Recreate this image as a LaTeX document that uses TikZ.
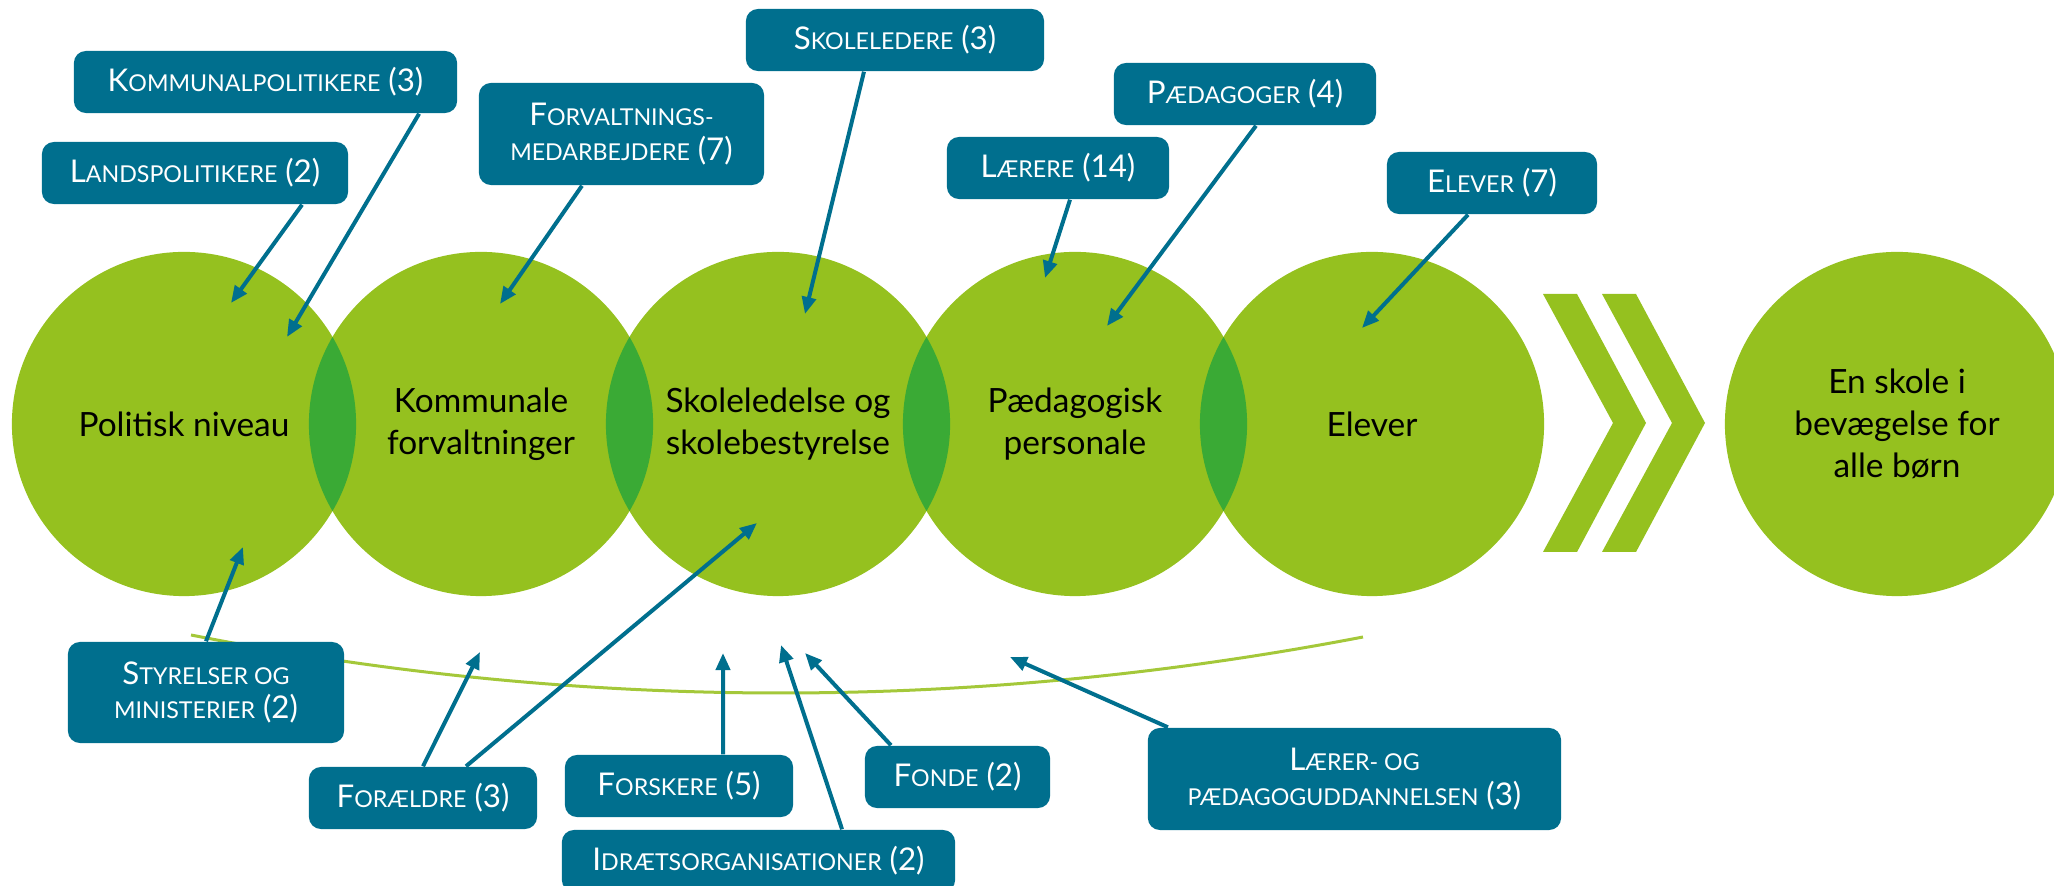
\documentclass[tikz,border=0pt]{standalone}
\usepackage{fontspec}
\setmainfont{Lato}
\usetikzlibrary{arrows.meta}
\definecolor{leafgreen}{HTML}{95C11F}
\definecolor{lensgreen}{HTML}{3AAA35}
\definecolor{petrol}{HTML}{006F8E}
\definecolor{linegreen}{HTML}{A4C83A}
\newcommand{\smc}[1]{{\fontsize{6.6}{7}\selectfont #1}}

\begin{document}
\begin{tikzpicture}[x=0.01cm,y=-0.01cm,
  stage node/.style={circle,fill=leafgreen,minimum size=3.44cm,inner sep=0pt,align=center,font=\fontsize{9.5}{12}\selectfont},
  label node/.style={rectangle,rounded corners=0.12cm,fill=petrol,text=white,align=center,inner sep=0pt,minimum height=0.62cm,font=\fontsize{8.9}{9.9}\selectfont},
  pointer/.style={-{Triangle[length=0.17cm,width=0.14cm]},draw=petrol,fill=petrol,line width=0.04cm}]
  \useasboundingbox (0,0) rectangle (2054,886);

  % the arc under the circles
  \draw[linegreen,line width=0.03cm] (191,635) .. controls (582,712) and (972,712) .. (1363,637);

  \node[stage node] (s1) at (184, 424) {Politisk niveau};
  \node[stage node] (s2) at (481, 424) {Kommunale\\forvaltninger};
  \node[stage node] (s3) at (778, 424) {Skoleledelse og\\skolebestyrelse};
  \node[stage node] (s4) at (1075, 424) {Pædagogisk\\personale};
  \node[stage node] (s5) at (1372, 424) {Elever};
  \node[stage node] (goal) at (1897, 424) {En skole i\\bevægelse for\\alle børn};

  % overlaps
  \foreach \a/\b in {s1/s2,s2/s3,s3/s4,s4/s5} {
    \begin{scope}
      \clip (\a) circle[radius=1.72cm];
      \fill[lensgreen] (\b) circle[radius=1.72cm];
    \end{scope}
  }

  % chevrons
  \foreach \dx in {0,59}
    \fill[leafgreen] (1543+\dx,294) -- (1577+\dx,294) -- (1646+\dx,423) -- (1577+\dx,552)
      -- (1543+\dx,552) -- (1613+\dx,423) -- cycle;

  \node[label node, minimum width=3.06cm] (lands) at (195, 173) {L\smc{ANDSPOLITIKERE} (2)};
  \node[label node, minimum width=3.83cm] (kpol) at (265.5, 82) {K\smc{OMMUNALPOLITIKERE} (3)};
  \node[label node, minimum width=2.85cm, minimum height=1.02cm] (forv) at (621.5, 134) {F\smc{ORVALTNINGS-}\\\smc{MEDARBEJDERE} (7)};
  \node[label node, minimum width=2.98cm] (skol) at (895, 40) {S\smc{KOLELEDERE} (3)};
  \node[label node, minimum width=2.22cm] (laer) at (1058, 168) {L\smc{ÆRERE} (14)};
  \node[label node, minimum width=2.62cm] (paed) at (1245, 94) {P\smc{ÆDAGOGER} (4)};
  \node[label node, minimum width=2.10cm] (elev) at (1492, 183) {E\smc{LEVER} (7)};
  \node[label node, minimum width=2.76cm, minimum height=1.01cm] (styr) at (206, 692.5) {S\smc{TYRELSER OG}\\\smc{MINISTERIER} (2)};
  \node[label node, minimum width=2.28cm] (fore) at (423, 798) {F\smc{ORÆLDRE} (3)};
  \node[label node, minimum width=2.28cm] (forsk) at (679, 786) {F\smc{ORSKERE} (5)};
  \node[label node, minimum width=3.93cm] (idraet) at (758.5, 861) {I\smc{DRÆTSORGANISATIONER} (2)};
  \node[label node, minimum width=1.85cm] (fonde) at (957.5, 777) {F\smc{ONDE} (2)};
  \node[label node, minimum width=4.13cm, minimum height=1.02cm] (uddan) at (1354.5, 779) {L\smc{ÆRER- OG}\\\smc{PÆDAGOGUDDANNELSEN} (3)};

  \coordinate (t-lands) at (231, 303);
  \coordinate (t-kpol) at (287, 337);
  \coordinate (t-forv) at (500, 304);
  \coordinate (t-skol) at (805, 314);
  \coordinate (t-laer) at (1045, 278);
  \coordinate (t-paed) at (1107, 326);
  \coordinate (t-elev) at (1362, 328);
  \coordinate (t-styr) at (243, 547);
  \coordinate (t-fore) at (480, 652);
  \coordinate (t-fore2) at (757, 523);
  \coordinate (t-forsk) at (723, 653);
  \coordinate (t-idraet) at (781, 645);
  \coordinate (t-fonde) at (805, 653);
  \coordinate (t-uddan) at (1010, 657);

  \path[pointer]
    ([xshift=1.07cm]lands.south) edge (t-lands)
    ([xshift=1.535cm]kpol.south) edge (t-kpol)
    ([xshift=-0.395cm]forv.south) edge (t-forv)
    ([xshift=-0.31cm]skol.south) edge (t-skol)
    ([xshift=0.12cm]laer.south) edge (t-laer)
    ([xshift=0.11cm]paed.south) edge (t-paed)
    ([xshift=-0.24cm]elev.south) edge (t-elev)
    (styr.north) edge (t-styr)
    (fore.north) edge (t-fore)
    ([xshift=0.43cm]fore.north) edge (t-fore2)
    ([xshift=0.44cm]forsk.north) edge (t-forsk)
    ([xshift=0.835cm]idraet.north) edge (t-idraet)
    ([xshift=-0.665cm]fonde.north) edge (t-fonde)
    ([xshift=-1.865cm]uddan.north) edge (t-uddan);
\end{tikzpicture}
\end{document}
